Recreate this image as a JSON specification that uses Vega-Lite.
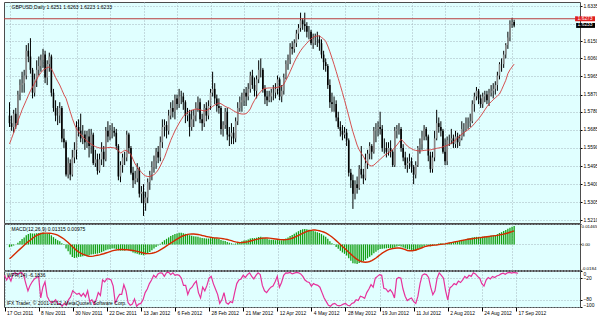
{
"$schema":"https://vega.github.io/schema/vega-lite/v6.json",
"padding":{"left":1,"top":1,"right":0,"bottom":0},
"background":"#ffffff",
"bounds":"flush",
"spacing":1,
"config":{
 "view":{"fill":"#e0ffff","stroke":"#4d4d4d","strokeWidth":1},
 "axis":{"labelFont":"Liberation Sans","labelFontSize":4.9,"labelColor":"#000000","domain":false,"tickColor":"#000000","tickSize":2,"gridColor":"#a5b5bd","gridDash":[1,2],"gridWidth":1,"labelOverlap":false,"labelFlush":false,"labelBound":false,"labelPadding":1,"tickCount":100},
 "text":{"font":"Liberation Sans","fontSize":5,"color":"#000000"}
},
"datasets":{"d":[
{"i":0,"o":1.5760,"h":1.5830,"l":1.5700,"c":1.5720,"a":1.5611,"m":-0.0020,"s":-0.0103,"w":-12},
{"i":1,"o":1.5720,"h":1.5760,"l":1.5680,"c":1.5700,"a":1.5640,"m":-0.0015,"s":-0.0090,"w":-25},
{"i":2,"o":1.5700,"h":1.5790,"l":1.5670,"c":1.5770,"a":1.5670,"m":-0.0008,"s":-0.0076,"w":-15},
{"i":3,"o":1.5770,"h":1.5800,"l":1.5690,"c":1.5720,"a":1.5700,"m":0.0000,"s":-0.0062,"w":-28},
{"i":4,"o":1.5720,"h":1.5890,"l":1.5710,"c":1.5870,"a":1.5731,"m":0.0012,"s":-0.0048,"w":-8},
{"i":5,"o":1.5870,"h":1.5950,"l":1.5840,"c":1.5920,"a":1.5760,"m":0.0025,"s":-0.0034,"w":-5},
{"i":6,"o":1.5920,"h":1.5990,"l":1.5880,"c":1.5930,"a":1.5790,"m":0.0038,"s":-0.0020,"w":-10},
{"i":7,"o":1.5930,"h":1.6000,"l":1.5880,"c":1.5970,"a":1.5815,"m":0.0050,"s":-0.0006,"w":-6},
{"i":8,"o":1.5970,"h":1.6130,"l":1.5950,"c":1.6100,"a":1.5840,"m":0.0065,"s":0.0008,"w":-4},
{"i":9,"o":1.6100,"h":1.6140,"l":1.6040,"c":1.6070,"a":1.5865,"m":0.0075,"s":0.0020,"w":-12},
{"i":10,"o":1.6070,"h":1.6166,"l":1.5980,"c":1.6000,"a":1.5890,"m":0.0080,"s":0.0032,"w":-35},
{"i":11,"o":1.6000,"h":1.6010,"l":1.5850,"c":1.5880,"a":1.5910,"m":0.0078,"s":0.0044,"w":-55},
{"i":12,"o":1.5880,"h":1.5980,"l":1.5860,"c":1.5950,"a":1.5930,"m":0.0078,"s":0.0055,"w":-40},
{"i":13,"o":1.5950,"h":1.6050,"l":1.5910,"c":1.6000,"a":1.5950,"m":0.0080,"s":0.0064,"w":-30},
{"i":14,"o":1.6000,"h":1.6070,"l":1.5970,"c":1.6020,"a":1.5970,"m":0.0082,"s":0.0071,"w":-22},
{"i":15,"o":1.6020,"h":1.6080,"l":1.5990,"c":1.6050,"a":1.5985,"m":0.0084,"s":0.0077,"w":-18},
{"i":16,"o":1.6050,"h":1.6110,"l":1.6010,"c":1.6080,"a":1.5998,"m":0.0085,"s":0.0080,"w":-15},
{"i":17,"o":1.6080,"h":1.6100,"l":1.5930,"c":1.5960,"a":1.6005,"m":0.0080,"s":0.0081,"w":-75},
{"i":18,"o":1.5960,"h":1.6050,"l":1.5920,"c":1.6030,"a":1.6012,"m":0.0078,"s":0.0081,"w":-45},
{"i":19,"o":1.6030,"h":1.6090,"l":1.5990,"c":1.6070,"a":1.6015,"m":0.0076,"s":0.0080,"w":-30},
{"i":20,"o":1.6070,"h":1.6080,"l":1.5860,"c":1.5880,"a":1.6005,"m":0.0065,"s":0.0079,"w":-70},
{"i":21,"o":1.5880,"h":1.5900,"l":1.5780,"c":1.5800,"a":1.5985,"m":0.0052,"s":0.0076,"w":-82},
{"i":22,"o":1.5800,"h":1.5840,"l":1.5730,"c":1.5760,"a":1.5960,"m":0.0040,"s":0.0072,"w":-88},
{"i":23,"o":1.5760,"h":1.5810,"l":1.5710,"c":1.5760,"a":1.5940,"m":0.0030,"s":0.0066,"w":-85},
{"i":24,"o":1.5760,"h":1.5830,"l":1.5720,"c":1.5800,"a":1.5920,"m":0.0022,"s":0.0058,"w":-80},
{"i":25,"o":1.5800,"h":1.5810,"l":1.5620,"c":1.5640,"a":1.5895,"m":0.0008,"s":0.0049,"w":-92},
{"i":26,"o":1.5640,"h":1.5690,"l":1.5590,"c":1.5620,"a":1.5870,"m":-0.0005,"s":0.0039,"w":-90},
{"i":27,"o":1.5620,"h":1.5630,"l":1.5440,"c":1.5450,"a":1.5850,"m":-0.0030,"s":0.0026,"w":-98},
{"i":28,"o":1.5450,"h":1.5540,"l":1.5430,"c":1.5510,"a":1.5815,"m":-0.0050,"s":0.0013,"w":-90},
{"i":29,"o":1.5510,"h":1.5530,"l":1.5420,"c":1.5450,"a":1.5780,"m":-0.0072,"s":-0.0001,"w":-95},
{"i":30,"o":1.5450,"h":1.5580,"l":1.5440,"c":1.5540,"a":1.5745,"m":-0.0090,"s":-0.0016,"w":-80},
{"i":31,"o":1.5540,"h":1.5620,"l":1.5510,"c":1.5580,"a":1.5715,"m":-0.0098,"s":-0.0030,"w":-72},
{"i":32,"o":1.5580,"h":1.5730,"l":1.5530,"c":1.5700,"a":1.5690,"m":-0.0095,"s":-0.0043,"w":-55},
{"i":33,"o":1.5700,"h":1.5740,"l":1.5650,"c":1.5680,"a":1.5675,"m":-0.0090,"s":-0.0054,"w":-60},
{"i":34,"o":1.5680,"h":1.5770,"l":1.5620,"c":1.5640,"a":1.5660,"m":-0.0088,"s":-0.0063,"w":-65},
{"i":35,"o":1.5640,"h":1.5710,"l":1.5610,"c":1.5660,"a":1.5648,"m":-0.0085,"s":-0.0070,"w":-62},
{"i":36,"o":1.5660,"h":1.5680,"l":1.5580,"c":1.5620,"a":1.5636,"m":-0.0082,"s":-0.0076,"w":-70},
{"i":37,"o":1.5620,"h":1.5680,"l":1.5590,"c":1.5650,"a":1.5626,"m":-0.0080,"s":-0.0082,"w":-62},
{"i":38,"o":1.5650,"h":1.5690,"l":1.5540,"c":1.5600,"a":1.5618,"m":-0.0078,"s":-0.0085,"w":-72},
{"i":39,"o":1.5600,"h":1.5690,"l":1.5560,"c":1.5660,"a":1.5610,"m":-0.0072,"s":-0.0086,"w":-55},
{"i":40,"o":1.5660,"h":1.5670,"l":1.5500,"c":1.5510,"a":1.5603,"m":-0.0070,"s":-0.0084,"w":-85},
{"i":41,"o":1.5510,"h":1.5580,"l":1.5490,"c":1.5530,"a":1.5597,"m":-0.0068,"s":-0.0081,"w":-80},
{"i":42,"o":1.5530,"h":1.5560,"l":1.5450,"c":1.5470,"a":1.5593,"m":-0.0066,"s":-0.0078,"w":-92},
{"i":43,"o":1.5470,"h":1.5560,"l":1.5460,"c":1.5530,"a":1.5590,"m":-0.0062,"s":-0.0075,"w":-80},
{"i":44,"o":1.5530,"h":1.5620,"l":1.5500,"c":1.5570,"a":1.5589,"m":-0.0056,"s":-0.0071,"w":-60},
{"i":45,"o":1.5570,"h":1.5600,"l":1.5490,"c":1.5530,"a":1.5589,"m":-0.0050,"s":-0.0067,"w":-68},
{"i":46,"o":1.5530,"h":1.5700,"l":1.5520,"c":1.5680,"a":1.5590,"m":-0.0042,"s":-0.0062,"w":-25},
{"i":47,"o":1.5680,"h":1.5730,"l":1.5620,"c":1.5650,"a":1.5592,"m":-0.0036,"s":-0.0057,"w":-30},
{"i":48,"o":1.5650,"h":1.5710,"l":1.5630,"c":1.5680,"a":1.5593,"m":-0.0033,"s":-0.0052,"w":-22},
{"i":49,"o":1.5680,"h":1.5720,"l":1.5640,"c":1.5680,"a":1.5592,"m":-0.0030,"s":-0.0047,"w":-22},
{"i":50,"o":1.5680,"h":1.5700,"l":1.5650,"c":1.5670,"a":1.5590,"m":-0.0030,"s":-0.0043,"w":-25},
{"i":51,"o":1.5670,"h":1.5690,"l":1.5580,"c":1.5600,"a":1.5588,"m":-0.0034,"s":-0.0040,"w":-42},
{"i":52,"o":1.5600,"h":1.5610,"l":1.5420,"c":1.5440,"a":1.5575,"m":-0.0042,"s":-0.0038,"w":-90},
{"i":53,"o":1.5440,"h":1.5520,"l":1.5410,"c":1.5500,"a":1.5563,"m":-0.0045,"s":-0.0037,"w":-75},
{"i":54,"o":1.5500,"h":1.5560,"l":1.5460,"c":1.5540,"a":1.5570,"m":-0.0044,"s":-0.0037,"w":-65},
{"i":55,"o":1.5540,"h":1.5570,"l":1.5500,"c":1.5540,"a":1.5578,"m":-0.0043,"s":-0.0038,"w":-65},
{"i":56,"o":1.5540,"h":1.5680,"l":1.5520,"c":1.5660,"a":1.5575,"m":-0.0040,"s":-0.0039,"w":-38},
{"i":57,"o":1.5660,"h":1.5670,"l":1.5560,"c":1.5590,"a":1.5568,"m":-0.0042,"s":-0.0040,"w":-55},
{"i":58,"o":1.5590,"h":1.5600,"l":1.5450,"c":1.5460,"a":1.5555,"m":-0.0050,"s":-0.0042,"w":-88},
{"i":59,"o":1.5460,"h":1.5490,"l":1.5380,"c":1.5420,"a":1.5530,"m":-0.0058,"s":-0.0044,"w":-95},
{"i":60,"o":1.5420,"h":1.5470,"l":1.5400,"c":1.5430,"a":1.5506,"m":-0.0064,"s":-0.0047,"w":-92},
{"i":61,"o":1.5430,"h":1.5510,"l":1.5410,"c":1.5480,"a":1.5490,"m":-0.0068,"s":-0.0050,"w":-78},
{"i":62,"o":1.5480,"h":1.5490,"l":1.5330,"c":1.5350,"a":1.5475,"m":-0.0072,"s":-0.0054,"w":-98},
{"i":63,"o":1.5350,"h":1.5390,"l":1.5300,"c":1.5360,"a":1.5462,"m":-0.0075,"s":-0.0058,"w":-92},
{"i":64,"o":1.5360,"h":1.5400,"l":1.5233,"c":1.5300,"a":1.5450,"m":-0.0078,"s":-0.0062,"w":-90},
{"i":65,"o":1.5300,"h":1.5360,"l":1.5260,"c":1.5330,"a":1.5443,"m":-0.0072,"s":-0.0065,"w":-80},
{"i":66,"o":1.5330,"h":1.5430,"l":1.5300,"c":1.5410,"a":1.5440,"m":-0.0064,"s":-0.0066,"w":-60},
{"i":67,"o":1.5410,"h":1.5470,"l":1.5370,"c":1.5450,"a":1.5440,"m":-0.0054,"s":-0.0066,"w":-50},
{"i":68,"o":1.5450,"h":1.5520,"l":1.5420,"c":1.5490,"a":1.5444,"m":-0.0042,"s":-0.0064,"w":-35},
{"i":69,"o":1.5490,"h":1.5550,"l":1.5460,"c":1.5520,"a":1.5450,"m":-0.0030,"s":-0.0060,"w":-25},
{"i":70,"o":1.5520,"h":1.5590,"l":1.5480,"c":1.5570,"a":1.5460,"m":-0.0018,"s":-0.0055,"w":-12},
{"i":71,"o":1.5570,"h":1.5600,"l":1.5510,"c":1.5540,"a":1.5475,"m":-0.0008,"s":-0.0048,"w":-18},
{"i":72,"o":1.5540,"h":1.5650,"l":1.5520,"c":1.5620,"a":1.5495,"m":0.0005,"s":-0.0040,"w":-8},
{"i":73,"o":1.5620,"h":1.5740,"l":1.5590,"c":1.5700,"a":1.5518,"m":0.0018,"s":-0.0031,"w":-5},
{"i":74,"o":1.5700,"h":1.5740,"l":1.5650,"c":1.5710,"a":1.5540,"m":0.0030,"s":-0.0021,"w":-6},
{"i":75,"o":1.5710,"h":1.5730,"l":1.5640,"c":1.5680,"a":1.5570,"m":0.0040,"s":-0.0011,"w":-15},
{"i":76,"o":1.5680,"h":1.5790,"l":1.5660,"c":1.5760,"a":1.5600,"m":0.0050,"s":-0.0001,"w":-5},
{"i":77,"o":1.5760,"h":1.5830,"l":1.5740,"c":1.5800,"a":1.5630,"m":0.0060,"s":0.0009,"w":-3},
{"i":78,"o":1.5800,"h":1.5840,"l":1.5750,"c":1.5780,"a":1.5655,"m":0.0068,"s":0.0019,"w":-10},
{"i":79,"o":1.5780,"h":1.5870,"l":1.5740,"c":1.5850,"a":1.5679,"m":0.0075,"s":0.0029,"w":-5},
{"i":80,"o":1.5850,"h":1.5870,"l":1.5790,"c":1.5820,"a":1.5700,"m":0.0078,"s":0.0038,"w":-12},
{"i":81,"o":1.5820,"h":1.5900,"l":1.5800,"c":1.5860,"a":1.5720,"m":0.0083,"s":0.0047,"w":-10},
{"i":82,"o":1.5860,"h":1.5890,"l":1.5820,"c":1.5860,"a":1.5738,"m":0.0083,"s":0.0055,"w":-12},
{"i":83,"o":1.5860,"h":1.5880,"l":1.5790,"c":1.5830,"a":1.5755,"m":0.0080,"s":0.0062,"w":-20},
{"i":84,"o":1.5830,"h":1.5840,"l":1.5720,"c":1.5760,"a":1.5768,"m":0.0076,"s":0.0067,"w":-40},
{"i":85,"o":1.5760,"h":1.5800,"l":1.5730,"c":1.5770,"a":1.5776,"m":0.0072,"s":0.0072,"w":-40},
{"i":86,"o":1.5770,"h":1.5790,"l":1.5650,"c":1.5700,"a":1.5782,"m":0.0066,"s":0.0074,"w":-65},
{"i":87,"o":1.5700,"h":1.5790,"l":1.5680,"c":1.5740,"a":1.5787,"m":0.0062,"s":0.0075,"w":-50},
{"i":88,"o":1.5740,"h":1.5790,"l":1.5700,"c":1.5760,"a":1.5792,"m":0.0058,"s":0.0075,"w":-45},
{"i":89,"o":1.5760,"h":1.5830,"l":1.5730,"c":1.5800,"a":1.5794,"m":0.0056,"s":0.0073,"w":-35},
{"i":90,"o":1.5800,"h":1.5860,"l":1.5780,"c":1.5830,"a":1.5793,"m":0.0054,"s":0.0071,"w":-28},
{"i":91,"o":1.5830,"h":1.5850,"l":1.5720,"c":1.5740,"a":1.5790,"m":0.0050,"s":0.0068,"w":-60},
{"i":92,"o":1.5740,"h":1.5770,"l":1.5680,"c":1.5720,"a":1.5787,"m":0.0046,"s":0.0064,"w":-75},
{"i":93,"o":1.5720,"h":1.5820,"l":1.5700,"c":1.5800,"a":1.5784,"m":0.0045,"s":0.0061,"w":-45},
{"i":94,"o":1.5800,"h":1.5830,"l":1.5730,"c":1.5760,"a":1.5786,"m":0.0042,"s":0.0057,"w":-55},
{"i":95,"o":1.5760,"h":1.5840,"l":1.5740,"c":1.5810,"a":1.5792,"m":0.0042,"s":0.0054,"w":-40},
{"i":96,"o":1.5810,"h":1.5900,"l":1.5790,"c":1.5880,"a":1.5800,"m":0.0045,"s":0.0051,"w":-20},
{"i":97,"o":1.5880,"h":1.5990,"l":1.5860,"c":1.5900,"a":1.5808,"m":0.0048,"s":0.0049,"w":-15},
{"i":98,"o":1.5900,"h":1.5930,"l":1.5820,"c":1.5850,"a":1.5815,"m":0.0046,"s":0.0047,"w":-35},
{"i":99,"o":1.5850,"h":1.5870,"l":1.5780,"c":1.5810,"a":1.5821,"m":0.0043,"s":0.0046,"w":-50},
{"i":100,"o":1.5810,"h":1.5850,"l":1.5770,"c":1.5800,"a":1.5826,"m":0.0040,"s":0.0045,"w":-65},
{"i":101,"o":1.5800,"h":1.5810,"l":1.5660,"c":1.5690,"a":1.5822,"m":0.0032,"s":0.0043,"w":-90},
{"i":102,"o":1.5690,"h":1.5730,"l":1.5650,"c":1.5710,"a":1.5815,"m":0.0026,"s":0.0041,"w":-80},
{"i":103,"o":1.5710,"h":1.5800,"l":1.5690,"c":1.5780,"a":1.5808,"m":0.0024,"s":0.0038,"w":-60},
{"i":104,"o":1.5780,"h":1.5800,"l":1.5630,"c":1.5660,"a":1.5803,"m":0.0018,"s":0.0035,"w":-88},
{"i":105,"o":1.5660,"h":1.5700,"l":1.5600,"c":1.5650,"a":1.5799,"m":0.0012,"s":0.0031,"w":-92},
{"i":106,"o":1.5650,"h":1.5720,"l":1.5610,"c":1.5670,"a":1.5792,"m":0.0008,"s":0.0027,"w":-85},
{"i":107,"o":1.5670,"h":1.5700,"l":1.5610,"c":1.5640,"a":1.5785,"m":0.0004,"s":0.0022,"w":-88},
{"i":108,"o":1.5640,"h":1.5750,"l":1.5620,"c":1.5730,"a":1.5779,"m":0.0006,"s":0.0018,"w":-60},
{"i":109,"o":1.5730,"h":1.5830,"l":1.5710,"c":1.5800,"a":1.5774,"m":0.0012,"s":0.0015,"w":-35},
{"i":110,"o":1.5800,"h":1.5860,"l":1.5780,"c":1.5830,"a":1.5770,"m":0.0018,"s":0.0013,"w":-25},
{"i":111,"o":1.5830,"h":1.5880,"l":1.5780,"c":1.5840,"a":1.5768,"m":0.0022,"s":0.0013,"w":-22},
{"i":112,"o":1.5840,"h":1.5900,"l":1.5810,"c":1.5880,"a":1.5768,"m":0.0028,"s":0.0015,"w":-12},
{"i":113,"o":1.5880,"h":1.5910,"l":1.5810,"c":1.5860,"a":1.5770,"m":0.0030,"s":0.0017,"w":-18},
{"i":114,"o":1.5860,"h":1.5930,"l":1.5840,"c":1.5900,"a":1.5780,"m":0.0035,"s":0.0020,"w":-10},
{"i":115,"o":1.5900,"h":1.5990,"l":1.5880,"c":1.5970,"a":1.5795,"m":0.0042,"s":0.0024,"w":-5},
{"i":116,"o":1.5970,"h":1.6000,"l":1.5900,"c":1.5920,"a":1.5820,"m":0.0045,"s":0.0028,"w":-15},
{"i":117,"o":1.5920,"h":1.5960,"l":1.5860,"c":1.5890,"a":1.5840,"m":0.0045,"s":0.0032,"w":-22},
{"i":118,"o":1.5890,"h":1.5970,"l":1.5850,"c":1.5950,"a":1.5858,"m":0.0048,"s":0.0036,"w":-12},
{"i":119,"o":1.5950,"h":1.6050,"l":1.5930,"c":1.6000,"a":1.5874,"m":0.0053,"s":0.0040,"w":-5},
{"i":120,"o":1.6000,"h":1.6060,"l":1.5960,"c":1.6000,"a":1.5886,"m":0.0055,"s":0.0043,"w":-10},
{"i":121,"o":1.6000,"h":1.6010,"l":1.5880,"c":1.5900,"a":1.5898,"m":0.0050,"s":0.0045,"w":-40},
{"i":122,"o":1.5900,"h":1.5920,"l":1.5820,"c":1.5860,"a":1.5902,"m":0.0045,"s":0.0046,"w":-55},
{"i":123,"o":1.5860,"h":1.5890,"l":1.5810,"c":1.5840,"a":1.5904,"m":0.0040,"s":0.0046,"w":-60},
{"i":124,"o":1.5840,"h":1.5890,"l":1.5830,"c":1.5860,"a":1.5905,"m":0.0036,"s":0.0045,"w":-52},
{"i":125,"o":1.5860,"h":1.5900,"l":1.5830,"c":1.5880,"a":1.5905,"m":0.0034,"s":0.0043,"w":-45},
{"i":126,"o":1.5880,"h":1.5920,"l":1.5840,"c":1.5880,"a":1.5905,"m":0.0032,"s":0.0041,"w":-42},
{"i":127,"o":1.5880,"h":1.5930,"l":1.5850,"c":1.5900,"a":1.5906,"m":0.0030,"s":0.0039,"w":-30},
{"i":128,"o":1.5900,"h":1.5970,"l":1.5870,"c":1.5950,"a":1.5908,"m":0.0032,"s":0.0037,"w":-15},
{"i":129,"o":1.5950,"h":1.5960,"l":1.5840,"c":1.5860,"a":1.5911,"m":0.0030,"s":0.0035,"w":-45},
{"i":130,"o":1.5860,"h":1.5920,"l":1.5830,"c":1.5890,"a":1.5914,"m":0.0030,"s":0.0034,"w":-32},
{"i":131,"o":1.5890,"h":1.5980,"l":1.5870,"c":1.5960,"a":1.5925,"m":0.0034,"s":0.0033,"w":-12},
{"i":132,"o":1.5960,"h":1.6050,"l":1.5950,"c":1.6030,"a":1.5945,"m":0.0042,"s":0.0034,"w":-5},
{"i":133,"o":1.6030,"h":1.6080,"l":1.6000,"c":1.6050,"a":1.5967,"m":0.0050,"s":0.0036,"w":-6},
{"i":134,"o":1.6050,"h":1.6140,"l":1.6030,"c":1.6120,"a":1.5990,"m":0.0060,"s":0.0040,"w":-4},
{"i":135,"o":1.6120,"h":1.6150,"l":1.6080,"c":1.6110,"a":1.6015,"m":0.0068,"s":0.0044,"w":-8},
{"i":136,"o":1.6110,"h":1.6160,"l":1.6090,"c":1.6140,"a":1.6040,"m":0.0076,"s":0.0050,"w":-6},
{"i":137,"o":1.6140,"h":1.6210,"l":1.6120,"c":1.6190,"a":1.6062,"m":0.0086,"s":0.0057,"w":-4},
{"i":138,"o":1.6190,"h":1.6240,"l":1.6160,"c":1.6220,"a":1.6082,"m":0.0095,"s":0.0064,"w":-5},
{"i":139,"o":1.6220,"h":1.6300,"l":1.6200,"c":1.6260,"a":1.6100,"m":0.0104,"s":0.0072,"w":-8},
{"i":140,"o":1.6260,"h":1.6270,"l":1.6210,"c":1.6240,"a":1.6115,"m":0.0108,"s":0.0080,"w":-15},
{"i":141,"o":1.6240,"h":1.6300,"l":1.6200,"c":1.6230,"a":1.6128,"m":0.0110,"s":0.0087,"w":-25},
{"i":142,"o":1.6230,"h":1.6250,"l":1.6170,"c":1.6200,"a":1.6140,"m":0.0108,"s":0.0093,"w":-30},
{"i":143,"o":1.6200,"h":1.6230,"l":1.6160,"c":1.6200,"a":1.6152,"m":0.0105,"s":0.0098,"w":-32},
{"i":144,"o":1.6200,"h":1.6210,"l":1.6130,"c":1.6140,"a":1.6163,"m":0.0100,"s":0.0101,"w":-42},
{"i":145,"o":1.6140,"h":1.6190,"l":1.6110,"c":1.6160,"a":1.6170,"m":0.0096,"s":0.0103,"w":-35},
{"i":146,"o":1.6160,"h":1.6190,"l":1.6130,"c":1.6160,"a":1.6175,"m":0.0092,"s":0.0103,"w":-38},
{"i":147,"o":1.6160,"h":1.6200,"l":1.6120,"c":1.6160,"a":1.6178,"m":0.0088,"s":0.0101,"w":-40},
{"i":148,"o":1.6160,"h":1.6180,"l":1.6100,"c":1.6140,"a":1.6178,"m":0.0082,"s":0.0098,"w":-45},
{"i":149,"o":1.6140,"h":1.6160,"l":1.6060,"c":1.6080,"a":1.6170,"m":0.0074,"s":0.0094,"w":-60},
{"i":150,"o":1.6080,"h":1.6100,"l":1.6000,"c":1.6040,"a":1.6162,"m":0.0064,"s":0.0089,"w":-75},
{"i":151,"o":1.6040,"h":1.6060,"l":1.5990,"c":1.6020,"a":1.6150,"m":0.0054,"s":0.0082,"w":-85},
{"i":152,"o":1.6020,"h":1.6030,"l":1.5900,"c":1.5920,"a":1.6125,"m":0.0040,"s":0.0074,"w":-95},
{"i":153,"o":1.5920,"h":1.5950,"l":1.5800,"c":1.5830,"a":1.6095,"m":0.0022,"s":0.0064,"w":-98},
{"i":154,"o":1.5830,"h":1.5880,"l":1.5780,"c":1.5820,"a":1.6062,"m":0.0008,"s":0.0053,"w":-92},
{"i":155,"o":1.5820,"h":1.5860,"l":1.5780,"c":1.5820,"a":1.6028,"m":-0.0004,"s":0.0040,"w":-90},
{"i":156,"o":1.5820,"h":1.5840,"l":1.5730,"c":1.5750,"a":1.5992,"m":-0.0018,"s":0.0027,"w":-95},
{"i":157,"o":1.5750,"h":1.5780,"l":1.5690,"c":1.5700,"a":1.5955,"m":-0.0032,"s":0.0013,"w":-97},
{"i":158,"o":1.5700,"h":1.5730,"l":1.5650,"c":1.5680,"a":1.5918,"m":-0.0046,"s":-0.0001,"w":-95},
{"i":159,"o":1.5680,"h":1.5710,"l":1.5630,"c":1.5660,"a":1.5880,"m":-0.0058,"s":-0.0015,"w":-92},
{"i":160,"o":1.5660,"h":1.5700,"l":1.5640,"c":1.5670,"a":1.5840,"m":-0.0068,"s":-0.0028,"w":-90},
{"i":161,"o":1.5670,"h":1.5690,"l":1.5600,"c":1.5630,"a":1.5800,"m":-0.0080,"s":-0.0042,"w":-95},
{"i":162,"o":1.5630,"h":1.5640,"l":1.5440,"c":1.5460,"a":1.5758,"m":-0.0100,"s":-0.0056,"w":-97},
{"i":163,"o":1.5460,"h":1.5480,"l":1.5380,"c":1.5420,"a":1.5715,"m":-0.0118,"s":-0.0070,"w":-90},
{"i":164,"o":1.5420,"h":1.5450,"l":1.5270,"c":1.5350,"a":1.5675,"m":-0.0135,"s":-0.0084,"w":-88},
{"i":165,"o":1.5350,"h":1.5420,"l":1.5320,"c":1.5400,"a":1.5640,"m":-0.0138,"s":-0.0097,"w":-80},
{"i":166,"o":1.5400,"h":1.5440,"l":1.5350,"c":1.5380,"a":1.5605,"m":-0.0140,"s":-0.0108,"w":-82},
{"i":167,"o":1.5380,"h":1.5500,"l":1.5370,"c":1.5480,"a":1.5580,"m":-0.0134,"s":-0.0117,"w":-70},
{"i":168,"o":1.5480,"h":1.5600,"l":1.5430,"c":1.5450,"a":1.5562,"m":-0.0128,"s":-0.0123,"w":-72},
{"i":169,"o":1.5450,"h":1.5480,"l":1.5400,"c":1.5430,"a":1.5546,"m":-0.0122,"s":-0.0127,"w":-76},
{"i":170,"o":1.5430,"h":1.5560,"l":1.5420,"c":1.5510,"a":1.5525,"m":-0.0112,"s":-0.0128,"w":-60},
{"i":171,"o":1.5510,"h":1.5580,"l":1.5480,"c":1.5560,"a":1.5510,"m":-0.0100,"s":-0.0127,"w":-50},
{"i":172,"o":1.5560,"h":1.5620,"l":1.5530,"c":1.5600,"a":1.5498,"m":-0.0088,"s":-0.0123,"w":-38},
{"i":173,"o":1.5600,"h":1.5610,"l":1.5530,"c":1.5570,"a":1.5495,"m":-0.0078,"s":-0.0117,"w":-45},
{"i":174,"o":1.5570,"h":1.5700,"l":1.5560,"c":1.5680,"a":1.5500,"m":-0.0064,"s":-0.0108,"w":-20},
{"i":175,"o":1.5680,"h":1.5720,"l":1.5620,"c":1.5690,"a":1.5510,"m":-0.0052,"s":-0.0098,"w":-15},
{"i":176,"o":1.5690,"h":1.5730,"l":1.5650,"c":1.5700,"a":1.5520,"m":-0.0042,"s":-0.0086,"w":-10},
{"i":177,"o":1.5700,"h":1.5780,"l":1.5660,"c":1.5690,"a":1.5530,"m":-0.0034,"s":-0.0074,"w":-12},
{"i":178,"o":1.5690,"h":1.5710,"l":1.5570,"c":1.5590,"a":1.5540,"m":-0.0032,"s":-0.0063,"w":-48},
{"i":179,"o":1.5590,"h":1.5640,"l":1.5560,"c":1.5590,"a":1.5550,"m":-0.0030,"s":-0.0053,"w":-50},
{"i":180,"o":1.5590,"h":1.5620,"l":1.5540,"c":1.5570,"a":1.5558,"m":-0.0028,"s":-0.0045,"w":-58},
{"i":181,"o":1.5570,"h":1.5620,"l":1.5550,"c":1.5590,"a":1.5565,"m":-0.0026,"s":-0.0038,"w":-52},
{"i":182,"o":1.5590,"h":1.5630,"l":1.5540,"c":1.5570,"a":1.5572,"m":-0.0026,"s":-0.0033,"w":-60},
{"i":183,"o":1.5570,"h":1.5580,"l":1.5490,"c":1.5500,"a":1.5580,"m":-0.0030,"s":-0.0030,"w":-75},
{"i":184,"o":1.5500,"h":1.5700,"l":1.5490,"c":1.5680,"a":1.5592,"m":-0.0022,"s":-0.0028,"w":-22},
{"i":185,"o":1.5680,"h":1.5710,"l":1.5640,"c":1.5690,"a":1.5605,"m":-0.0016,"s":-0.0026,"w":-18},
{"i":186,"o":1.5690,"h":1.5720,"l":1.5660,"c":1.5690,"a":1.5620,"m":-0.0012,"s":-0.0026,"w":-20},
{"i":187,"o":1.5690,"h":1.5700,"l":1.5570,"c":1.5590,"a":1.5635,"m":-0.0015,"s":-0.0028,"w":-50},
{"i":188,"o":1.5590,"h":1.5610,"l":1.5520,"c":1.5540,"a":1.5625,"m":-0.0022,"s":-0.0032,"w":-70},
{"i":189,"o":1.5540,"h":1.5570,"l":1.5480,"c":1.5500,"a":1.5612,"m":-0.0030,"s":-0.0038,"w":-82},
{"i":190,"o":1.5500,"h":1.5540,"l":1.5460,"c":1.5510,"a":1.5600,"m":-0.0034,"s":-0.0044,"w":-78},
{"i":191,"o":1.5510,"h":1.5560,"l":1.5480,"c":1.5520,"a":1.5592,"m":-0.0036,"s":-0.0046,"w":-75},
{"i":192,"o":1.5520,"h":1.5540,"l":1.5460,"c":1.5490,"a":1.5586,"m":-0.0040,"s":-0.0046,"w":-85},
{"i":193,"o":1.5490,"h":1.5500,"l":1.5400,"c":1.5450,"a":1.5580,"m":-0.0046,"s":-0.0044,"w":-90},
{"i":194,"o":1.5450,"h":1.5520,"l":1.5430,"c":1.5500,"a":1.5577,"m":-0.0046,"s":-0.0040,"w":-70},
{"i":195,"o":1.5500,"h":1.5600,"l":1.5490,"c":1.5590,"a":1.5575,"m":-0.0040,"s":-0.0035,"w":-35},
{"i":196,"o":1.5590,"h":1.5640,"l":1.5560,"c":1.5610,"a":1.5574,"m":-0.0032,"s":-0.0030,"w":-12},
{"i":197,"o":1.5610,"h":1.5680,"l":1.5580,"c":1.5650,"a":1.5575,"m":-0.0022,"s":-0.0024,"w":-8},
{"i":198,"o":1.5650,"h":1.5710,"l":1.5630,"c":1.5690,"a":1.5577,"m":-0.0012,"s":-0.0018,"w":-10},
{"i":199,"o":1.5690,"h":1.5700,"l":1.5630,"c":1.5650,"a":1.5578,"m":-0.0006,"s":-0.0013,"w":-18},
{"i":200,"o":1.5650,"h":1.5660,"l":1.5520,"c":1.5550,"a":1.5579,"m":-0.0010,"s":-0.0010,"w":-45},
{"i":201,"o":1.5550,"h":1.5570,"l":1.5460,"c":1.5480,"a":1.5580,"m":-0.0014,"s":-0.0008,"w":-66},
{"i":202,"o":1.5480,"h":1.5570,"l":1.5460,"c":1.5540,"a":1.5582,"m":-0.0012,"s":-0.0006,"w":-55},
{"i":203,"o":1.5540,"h":1.5680,"l":1.5520,"c":1.5640,"a":1.5585,"m":-0.0006,"s":-0.0005,"w":-20},
{"i":204,"o":1.5640,"h":1.5790,"l":1.5630,"c":1.5720,"a":1.5588,"m":0.0002,"s":-0.0004,"w":-5},
{"i":205,"o":1.5720,"h":1.5750,"l":1.5670,"c":1.5700,"a":1.5590,"m":0.0006,"s":-0.0002,"w":-12},
{"i":206,"o":1.5700,"h":1.5730,"l":1.5650,"c":1.5680,"a":1.5592,"m":0.0008,"s":0.0000,"w":-20},
{"i":207,"o":1.5680,"h":1.5690,"l":1.5560,"c":1.5570,"a":1.5596,"m":0.0006,"s":0.0002,"w":-55},
{"i":208,"o":1.5570,"h":1.5640,"l":1.5500,"c":1.5520,"a":1.5600,"m":0.0004,"s":0.0004,"w":-80},
{"i":209,"o":1.5520,"h":1.5650,"l":1.5500,"c":1.5630,"a":1.5604,"m":0.0008,"s":0.0007,"w":-47},
{"i":210,"o":1.5630,"h":1.5660,"l":1.5600,"c":1.5630,"a":1.5608,"m":0.0012,"s":0.0010,"w":-42},
{"i":211,"o":1.5630,"h":1.5690,"l":1.5610,"c":1.5640,"a":1.5614,"m":0.0016,"s":0.0013,"w":-35},
{"i":212,"o":1.5640,"h":1.5660,"l":1.5590,"c":1.5610,"a":1.5622,"m":0.0018,"s":0.0016,"w":-38},
{"i":213,"o":1.5610,"h":1.5680,"l":1.5590,"c":1.5650,"a":1.5632,"m":0.0022,"s":0.0019,"w":-28},
{"i":214,"o":1.5650,"h":1.5670,"l":1.5590,"c":1.5620,"a":1.5642,"m":0.0024,"s":0.0022,"w":-32},
{"i":215,"o":1.5620,"h":1.5660,"l":1.5600,"c":1.5640,"a":1.5653,"m":0.0026,"s":0.0025,"w":-25},
{"i":216,"o":1.5640,"h":1.5730,"l":1.5630,"c":1.5690,"a":1.5662,"m":0.0030,"s":0.0028,"w":-15},
{"i":217,"o":1.5690,"h":1.5720,"l":1.5650,"c":1.5690,"a":1.5670,"m":0.0034,"s":0.0031,"w":-20},
{"i":218,"o":1.5690,"h":1.5750,"l":1.5680,"c":1.5720,"a":1.5678,"m":0.0038,"s":0.0034,"w":-12},
{"i":219,"o":1.5720,"h":1.5750,"l":1.5690,"c":1.5720,"a":1.5686,"m":0.0042,"s":0.0037,"w":-15},
{"i":220,"o":1.5720,"h":1.5770,"l":1.5700,"c":1.5730,"a":1.5694,"m":0.0046,"s":0.0039,"w":-5},
{"i":221,"o":1.5730,"h":1.5840,"l":1.5720,"c":1.5820,"a":1.5705,"m":0.0050,"s":0.0041,"w":-8},
{"i":222,"o":1.5820,"h":1.5880,"l":1.5780,"c":1.5860,"a":1.5717,"m":0.0052,"s":0.0043,"w":-15},
{"i":223,"o":1.5860,"h":1.5910,"l":1.5840,"c":1.5890,"a":1.5730,"m":0.0054,"s":0.0045,"w":-20},
{"i":224,"o":1.5890,"h":1.5900,"l":1.5820,"c":1.5850,"a":1.5742,"m":0.0054,"s":0.0047,"w":-35},
{"i":225,"o":1.5850,"h":1.5870,"l":1.5800,"c":1.5820,"a":1.5757,"m":0.0054,"s":0.0049,"w":-42},
{"i":226,"o":1.5820,"h":1.5880,"l":1.5800,"c":1.5860,"a":1.5773,"m":0.0055,"s":0.0051,"w":-25},
{"i":227,"o":1.5860,"h":1.5890,"l":1.5830,"c":1.5870,"a":1.5790,"m":0.0056,"s":0.0053,"w":-18},
{"i":228,"o":1.5870,"h":1.5890,"l":1.5820,"c":1.5840,"a":1.5806,"m":0.0057,"s":0.0055,"w":-22},
{"i":229,"o":1.5840,"h":1.5900,"l":1.5810,"c":1.5880,"a":1.5821,"m":0.0060,"s":0.0057,"w":-15},
{"i":230,"o":1.5880,"h":1.5920,"l":1.5860,"c":1.5890,"a":1.5832,"m":0.0064,"s":0.0059,"w":-18},
{"i":231,"o":1.5890,"h":1.5930,"l":1.5850,"c":1.5900,"a":1.5843,"m":0.0066,"s":0.0061,"w":-14},
{"i":232,"o":1.5900,"h":1.5940,"l":1.5870,"c":1.5920,"a":1.5853,"m":0.0068,"s":0.0063,"w":-12},
{"i":233,"o":1.5920,"h":1.5990,"l":1.5890,"c":1.5970,"a":1.5863,"m":0.0074,"s":0.0065,"w":-8},
{"i":234,"o":1.5970,"h":1.6040,"l":1.5950,"c":1.6030,"a":1.5873,"m":0.0082,"s":0.0068,"w":-6},
{"i":235,"o":1.6030,"h":1.6060,"l":1.5990,"c":1.6030,"a":1.5895,"m":0.0088,"s":0.0071,"w":-9},
{"i":236,"o":1.6030,"h":1.6100,"l":1.6010,"c":1.6080,"a":1.5920,"m":0.0096,"s":0.0074,"w":-5},
{"i":237,"o":1.6080,"h":1.6140,"l":1.6060,"c":1.6130,"a":1.5945,"m":0.0104,"s":0.0078,"w":-4},
{"i":238,"o":1.6130,"h":1.6200,"l":1.6110,"c":1.6170,"a":1.5980,"m":0.0112,"s":0.0082,"w":-6},
{"i":239,"o":1.6170,"h":1.6260,"l":1.6150,"c":1.6240,"a":1.6000,"m":0.0120,"s":0.0087,"w":-4},
{"i":240,"o":1.6240,"h":1.6273,"l":1.6220,"c":1.6251,"a":1.6015,"m":0.0127,"s":0.0092,"w":-5},
{"i":241,"o":1.6251,"h":1.6263,"l":1.6223,"c":1.6233,"a":1.6030,"m":0.01315,"s":0.00975,"w":-6.18}
]},
"vconcat":[
{"width":576,"height":221,"layer":[
 {"data":{"name":"d"},"mark":{"type":"rule","color":"#000000","strokeWidth":1},
  "encoding":{
   "x":{"field":"i","type":"quantitative","title":null,"scale":{"domain":[-0.24,270.06],"nice":false,"zero":false},"axis":{"values":[0,16,32,48,64,80,96,112,128,144,160,176,192,208,224,240],"labels":false,"ticks":false,"grid":true,"tickCount":100}},
   "y":{"field":"l","type":"quantitative","title":null,"scale":{"domain":[1.5196,1.6356],"nice":false,"zero":false},"axis":{"orient":"right","values":[1.6335,1.6243,1.615,1.606,1.5965,1.587,1.578,1.5685,1.559,1.5495,1.54,1.5305,1.521],"labelExpr":"datum.value == 1.6243 ? '' : format(datum.value, '.4f')","grid":true,"tickCount":100,"tickSize":2,"labelPadding":1}},
   "y2":{"field":"h"}}},
 {"data":{"name":"d"},"mark":{"type":"bar","size":1.6},
  "encoding":{"x":{"field":"i","type":"quantitative","title":null},"y":{"field":"o","type":"quantitative","title":null},"y2":{"field":"c"},
   "color":{"condition":{"test":"datum.c >= datum.o","value":"#8a8a8a"},"value":"#000000"}}},
 {"data":{"name":"d"},"mark":{"type":"line","color":"#d23c3c","strokeWidth":0.9},
  "encoding":{"x":{"field":"i","type":"quantitative","title":null},"y":{"field":"a","type":"quantitative","title":null}}},
 {"data":{"values":[{}]},"mark":{"type":"rule","color":"#b83c3c","strokeWidth":1},
  "encoding":{"y":{"datum":1.6268,"type":"quantitative"}}},
 {"data":{"values":[{}]},"mark":{"type":"rect","color":"#e02020"},
  "encoding":{"x":{"datum":270.1,"type":"quantitative"},"x2":{"datum":279.6},"y":{"datum":1.6281,"type":"quantitative"},"y2":{"datum":1.6255}}},
 {"data":{"values":[{}]},"mark":{"type":"rect","color":"#000000"},
  "encoding":{"x":{"datum":270.6,"type":"quantitative"},"x2":{"datum":279.6},"y":{"datum":1.6246,"type":"quantitative"},"y2":{"datum":1.6220}}},
 {"data":{"values":[{}]},"mark":{"type":"text","align":"left","baseline":"middle","color":"#ffffff","fontSize":4.9},
  "encoding":{"x":{"datum":271.3,"type":"quantitative"},"y":{"datum":1.6268,"type":"quantitative"},"text":{"value":"1.6273"}}},
 {"data":{"values":[{}]},"mark":{"type":"text","align":"left","baseline":"middle","color":"#ffffff","fontSize":4.9},
  "encoding":{"x":{"datum":271.3,"type":"quantitative"},"y":{"datum":1.6233,"type":"quantitative"},"text":{"value":"1.6233"}}},
 {"data":{"values":[{}]},"mark":{"type":"text","align":"left","baseline":"middle"},
  "encoding":{"x":{"datum":1,"type":"quantitative"},"y":{"datum":1.6331,"type":"quantitative"},"text":{"value":"GBPUSD,Daily  1.6251 1.6263 1.6223 1.6233"}}}
]},
{"width":576,"height":46,"layer":[
 {"data":{"name":"d"},"mark":{"type":"bar","size":1.3,"color":"#14a014"},
  "encoding":{
   "x":{"field":"i","type":"quantitative","title":null,"scale":{"domain":[-0.24,270.06],"nice":false,"zero":false},"axis":{"values":[0,16,32,48,64,80,96,112,128,144,160,176,192,208,224,240],"labels":false,"ticks":false,"grid":true,"tickCount":100}},
   "y":{"field":"m","type":"quantitative","title":null,"scale":{"domain":[-0.0184,0.01465],"nice":false,"zero":false},"axis":{"orient":"right","values":[0.01465,0,-0.0184],"labelExpr":"datum.value > 0.01 ? '0.01465' : (datum.value < -0.01 ? '-0.0184' : '0.00')","labelBaseline":{"condition":[{"test":"datum.value > 0.01","value":"top"},{"test":"datum.value < -0.01","value":"bottom"}],"value":"middle"},"grid":true,"tickCount":100,"tickSize":1,"labelPadding":0,"labelFontSize":4.4}},
   "y2":{"datum":0}}},
 {"data":{"name":"d"},"mark":{"type":"line","color":"#d42a00","strokeWidth":1.4},
  "encoding":{"x":{"field":"i","type":"quantitative","title":null},"y":{"field":"s","type":"quantitative","title":null}}},
 {"data":{"values":[{}]},"mark":{"type":"text","align":"left","baseline":"middle"},
  "encoding":{"x":{"datum":1,"type":"quantitative"},"y":{"datum":0.0109,"type":"quantitative"},"text":{"value":"MACD(12,26,9) 0.01315 0.00975"}}}
]},
{"width":576,"height":36,"layer":[
 {"data":{"name":"d"},"mark":{"type":"line","color":"#e6329b","strokeWidth":1.2},
  "encoding":{
   "x":{"field":"i","type":"quantitative","title":null,"scale":{"domain":[-0.24,270.06],"nice":false,"zero":false},"axis":{"values":[0,16,32,48,64,80,96,112,128,144,160,176,192,208,224,240],"grid":true,"tickCount":100,"labelExpr":"['17 Oct 2011','8 Nov 2011','30 Nov 2011','22 Dec 2011','13 Jan 2012','6 Feb 2012','28 Feb 2012','21 Mar 2012','12 Apr 2012','4 May 2012','28 May 2012','19 Jun 2012','11 Jul 2012','2 Aug 2012','24 Aug 2012','17 Sep 2012'][round(datum.value/16)]","labelAlign":"left","labelOffset":2,"labelPadding":-1,"tickSize":4,"labelBaseline":"top"}},
   "y":{"field":"w","type":"quantitative","title":null,"scale":{"domain":[-100,0],"nice":false,"zero":false},"axis":{"orient":"right","values":[0,-20,-80,-100],"labelBaseline":{"condition":[{"test":"datum.value == 0","value":"top"},{"test":"datum.value == -100","value":"bottom"}],"value":"middle"},"grid":true,"tickCount":100,"tickSize":2,"labelPadding":1}}}},
 {"data":{"values":[{}]},"mark":{"type":"text","align":"left","baseline":"middle"},
  "encoding":{"x":{"datum":1,"type":"quantitative"},"y":{"datum":-12,"type":"quantitative"},"text":{"value":"WPR(14) -6.1836"}}},
 {"data":{"values":[{}]},"mark":{"type":"text","align":"left","baseline":"middle"},
  "encoding":{"x":{"datum":1,"type":"quantitative"},"y":{"datum":-89,"type":"quantitative"},"text":{"value":"IFX Trader, © 2001-2012, MetaQuotes Software Corp."}}}
]}
]
}
